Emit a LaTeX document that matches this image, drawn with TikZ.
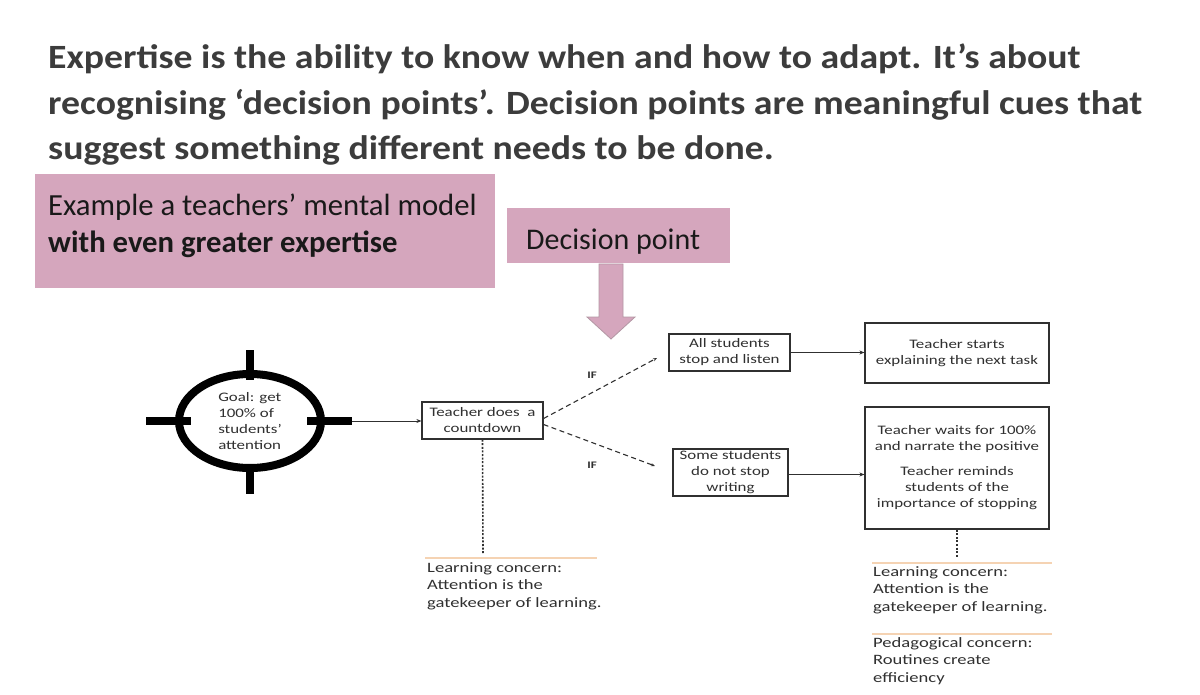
\documentclass[tikz,border=0pt]{standalone}
\usepackage{fontspec}
\setmainfont{Carlito}
\newfontfamily\diag[FakeStretch=1.3]{Carlito}
\newfontfamily\titlefont[FakeStretch=1.11]{Carlito}
\usetikzlibrary{arrows.meta,shapes.geometric}
\definecolor{pinkbox}{HTML}{D5A6BD}
\definecolor{titlegray}{HTML}{3C3C3C}
\definecolor{diaggray}{HTML}{303030}
\definecolor{peach}{HTML}{F5D3B3}
\tikzset{
  pinkfill/.style={fill=pinkbox, draw=none},
  flowbox/.style={draw=diaggray, line width=1.2pt, inner sep=0pt, align=center,
     font=\diag\fontsize{13}{16}\selectfont, text=diaggray},
  concern/.style={anchor=north west, inner sep=0pt, align=left,
     font=\diag\fontsize{14.3}{17.7}\selectfont, text=diaggray},
  tick/.style={line width=8pt, black},
  solidarrow/.style={draw=diaggray, line width=1pt, -{Stealth[length=5pt,width=4pt]}},
  dasharrow/.style={draw=diaggray, line width=1.1pt, dash pattern=on 5pt off 3.5pt, -{Stealth[length=4pt,width=3pt]}},
  dottedline/.style={draw=diaggray, line width=1.6pt, dash pattern=on 2pt off 1.6pt},
  peachline/.style={draw=peach, line width=2pt},
  iflabel/.style={font=\diag\fontsize{10}{12}\bfseries\selectfont, text=diaggray, inner sep=0pt}
}
\begin{document}
\begin{tikzpicture}[x=1pt,y=-1pt]
\useasboundingbox (0,0) rectangle (1200,695);
\fill[white] (0,0) rectangle (1200,695);

% title
\node[anchor=north west, inner sep=0pt, align=left, text=titlegray,
      font=\titlefont\fontsize{34}{45.5}\bfseries\selectfont] (title) at (48,44)
 {Expertise is the ability to know when and how to adapt. It’s about\\
  recognising ‘decision points’. Decision points are meaningful cues that\\
  suggest something different needs to be done.};

% example box
\node[pinkfill, minimum width=460, minimum height=114, anchor=north west, inner sep=0pt] (exbox) at (35,174) {};
\node[anchor=north west, inner sep=0pt, align=left, text=black!90,
      font=\fontsize{30.7}{37}\selectfont] (extext) at (48,193.5)
 {Example a teachers’ mental model\\ \textbf{with even greater expertise}};

% decision point
\node[pinkfill, minimum width=223, minimum height=55, anchor=north west, inner sep=0pt] (dpbox) at (507,208) {};
\node[anchor=base west, inner sep=0pt, text=black!90, font=\fontsize{30}{36}\selectfont] (dptext) at (526,250) {Decision point};
\draw[fill=pinkbox, draw=pinkbox!60!gray, line width=0.8pt]
  (599,264) -- (623,264) -- (623,317) -- (635,317) -- (611,339) -- (587,317) -- (599,317) -- cycle;

% goal target
\node[draw=black, ellipse, line width=8pt, minimum width=142, minimum height=94, inner sep=0pt,
      align=left, font=\diag\fontsize{13}{16}\selectfont, text=diaggray] (goal) at (250,421)
 {Goal: get\\100\% of\\students’\\attention};
\draw[tick] ([xshift=-29pt]goal.west) -- ([xshift=16pt]goal.west);
\draw[tick] ([xshift=-18pt]goal.east) -- ([xshift=27pt]goal.east);
\draw[tick] ([yshift=20pt]goal.north) -- ([yshift=-10pt]goal.north);
\draw[tick] ([yshift=8pt]goal.south) -- ([yshift=-22pt]goal.south);
\coordinate (gr) at ([xshift=27pt]goal.east);

% flow boxes
\node[flowbox, minimum width=121, minimum height=37] (countdown) at (482.5,420.5) {Teacher does\ \ a\\countdown};
\node[flowbox, minimum width=121, minimum height=37] (all) at (729.5,352.5) {All students\\stop and listen};
\node[flowbox, minimum width=184, minimum height=60] (starts) at (957,353) {Teacher starts\\explaining the next task};
\node[flowbox, minimum width=115, minimum height=47] (some) at (730.5,472.5) {Some students\\do not stop\\writing};
\node[flowbox, minimum width=184, minimum height=122] (waits) at (957,468)
 {Teacher waits for 100\%\\and narrate the positive\\[9pt]Teacher reminds\\students of the\\importance of stopping};

% connectors
\draw[solidarrow] (gr) -- (countdown.west |- gr);
\draw[solidarrow] (all.east) -- (starts.west |- all.east);
\coordinate (someout) at ([yshift=-2pt]some.east);
\draw[solidarrow] (someout) -- (waits.west |- someout);
\coordinate (upend) at (657,358);
\coordinate (lowend) at (655,466);
\draw[dasharrow] ([yshift=2pt]countdown.east) -- (upend);
\draw[dasharrow] ([yshift=-4pt]countdown.east) -- (lowend);
\node[iflabel] (if1) at (592,375) {IF};
\node[iflabel] (if2) at (592,465) {IF};

% left concern
\coordinate (lc1) at (483,553);
\draw[dottedline] (countdown.south) -- (lc1);
\draw[peachline] (425,558) -- (597,558);
\node[concern] (learn1) at (427,562) {Learning concern:\\Attention is the\\gatekeeper of learning.};

% right concerns
\coordinate (lc2) at (957,558);
\draw[dottedline] (waits.south) -- (lc2);
\draw[peachline] (872,563) -- (1052,563);
\node[concern] (learn2) at (873,566) {Learning concern:\\Attention is the\\gatekeeper of learning.};
\draw[peachline] (872,634) -- (1052,634);
\node[concern] (peda) at (873,637) {Pedagogical concern:\\Routines create\\efficiency};
\end{tikzpicture}
\end{document}
